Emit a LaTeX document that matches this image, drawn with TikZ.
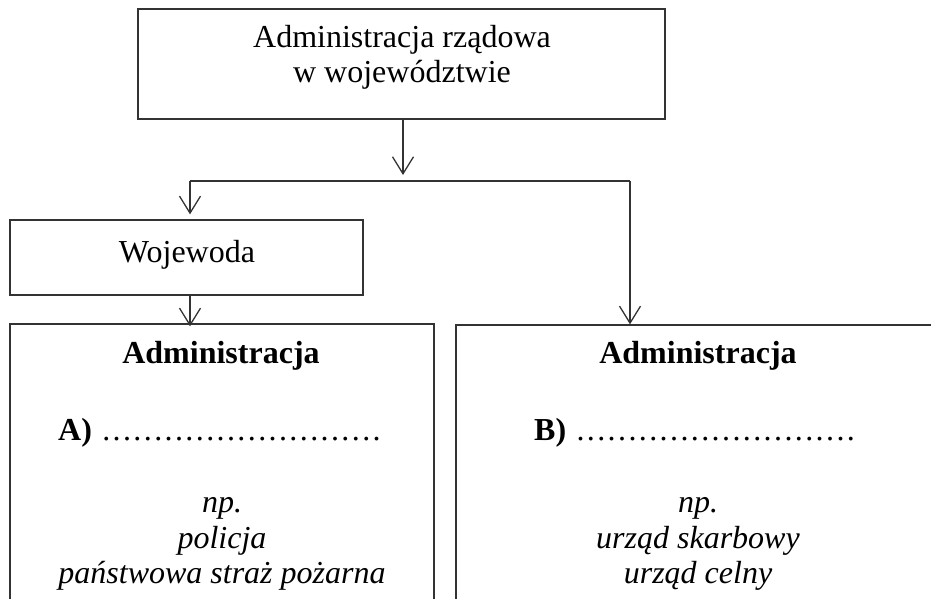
\documentclass[tikz,border=0pt]{standalone}
\usepackage{fontspec}
\setmainfont{Liberation Serif}
\usetikzlibrary{arrows.meta}
\newcommand{\dotrow}{\hbox to 281pt{\mdseries\cleaders\hbox to 10.4pt{\hss.\hss}\hfill}}
\begin{document}
\begin{tikzpicture}[x=1pt,y=-1pt,
  line/.style={line width=1.3pt, draw=black!80},
  arr/.style={line, -{Straight Barb[length=17pt,width=21pt,line width=1.3pt]}},
  box/.style={line, rectangle, inner sep=0pt},
  txt/.style={font=\fontsize{32}{36}\selectfont, inner sep=0pt, anchor=base},
  btxt/.style={font=\fontsize{32}{36}\selectfont\bfseries, inner sep=0pt, anchor=base},
  itxt/.style={font=\fontsize{32}{36}\selectfont\itshape, inner sep=0pt, anchor=base}]
\useasboundingbox (0,0) rectangle (931,599);
\clip (0,0) rectangle (931,599);
% boxes
\node[box, minimum width=527pt, minimum height=110pt] (top) at (401.5,64) {};
\node[box, minimum width=353pt, minimum height=75pt] (woj) at (186.5,257.5) {};
\node[box, minimum width=424pt, minimum height=300pt] (boxA) at (222,474) {};
\node[box, minimum width=500pt, minimum height=300pt] (boxB) at (706,475) {};
% texts
\node[txt] (t1) at (402,48) {Administracja rządowa};
\node[txt] (t2) at (402,83) {w województwie};
\node[txt] (tw) at (187,262) {Wojewoda};
\node[btxt] (ha) at (221,363) {Administracja};
\node[btxt] (hb) at (698,363) {Administracja};
\node[btxt, anchor=base west] (la) at (58,440) {A)\hspace{9pt}\dotrow};
\node[btxt, anchor=base west] (lb) at (534,440) {B)\hspace{9pt}\dotrow};
\node[itxt] (a1) at (222,512) {np.};
\node[itxt] (a2) at (222,548) {policja};
\node[itxt] (a3) at (222,583) {państwowa straż pożarna};
\node[itxt] (b1) at (698,512) {np.};
\node[itxt] (b2) at (698,548) {urząd skarbowy};
\node[itxt] (b3) at (698,583) {urząd celny};
% connectors
\coordinate (jm) at (403,181);
\coordinate (jl) at (190,181);
\coordinate (jr) at (630,181);
\draw[arr, shorten >=6pt] (top.south -| jm) -- (jm);
\draw[line] (jl) -- (jr);
\draw[arr, shorten >=5pt] (jl) -- (woj.north -| jl);
\draw[arr] (jr) -- (boxB.north -| jr);
\draw[arr, shorten >=-3pt] (woj.south -| jl) -- (boxA.north -| jl);
\end{tikzpicture}
\end{document}
